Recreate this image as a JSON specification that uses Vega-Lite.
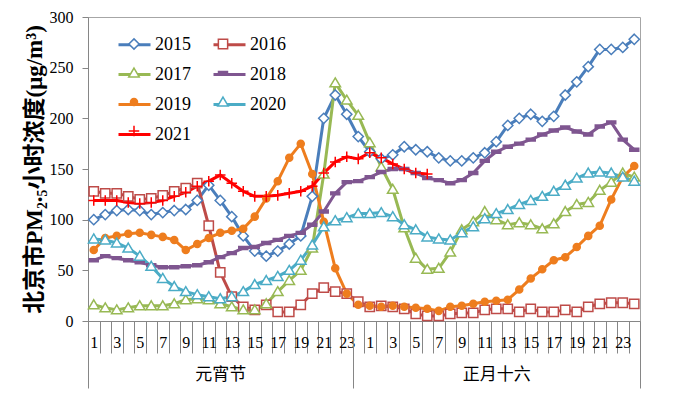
{
"$schema":"https://vega.github.io/schema/vega-lite/v6.json",
"width":552,"height":304,
"autosize":{"type":"none"},
"padding":{"left":88,"top":17,"right":48,"bottom":73},
"background":"white",
"config":{"view":{"stroke":"#A6A6A6","strokeWidth":1},"font":"Liberation Serif"},
"datasets":{"pm":[
{"s":"2015","i":1,"v":100},{"s":"2015","i":2,"v":105},{"s":"2015","i":3,"v":109},{"s":"2015","i":4,"v":110},{"s":"2015","i":5,"v":109},{"s":"2015","i":6,"v":105},{"s":"2015","i":7,"v":107},{"s":"2015","i":8,"v":109},{"s":"2015","i":9,"v":110},{"s":"2015","i":10,"v":119},{"s":"2015","i":11,"v":134},{"s":"2015","i":12,"v":119},{"s":"2015","i":13,"v":103},{"s":"2015","i":14,"v":84},{"s":"2015","i":15,"v":69},{"s":"2015","i":16,"v":64},{"s":"2015","i":17,"v":69},{"s":"2015","i":18,"v":76},{"s":"2015","i":19,"v":84},{"s":"2015","i":20,"v":123},{"s":"2015","i":21,"v":200},{"s":"2015","i":22,"v":223},{"s":"2015","i":23,"v":204},{"s":"2015","i":24,"v":182},{"s":"2015","i":25,"v":167},{"s":"2015","i":26,"v":160},{"s":"2015","i":27,"v":164},{"s":"2015","i":28,"v":172},{"s":"2015","i":29,"v":169},{"s":"2015","i":30,"v":167},{"s":"2015","i":31,"v":161},{"s":"2015","i":32,"v":158},{"s":"2015","i":33,"v":158},{"s":"2015","i":34,"v":161},{"s":"2015","i":35,"v":166},{"s":"2015","i":36,"v":177},{"s":"2015","i":37,"v":193},{"s":"2015","i":38,"v":200},{"s":"2015","i":39,"v":204},{"s":"2015","i":40,"v":197},{"s":"2015","i":41,"v":202},{"s":"2015","i":42,"v":223},{"s":"2015","i":43,"v":236},{"s":"2015","i":44,"v":251},{"s":"2015","i":45,"v":268},{"s":"2015","i":46,"v":268},{"s":"2015","i":47,"v":270},{"s":"2015","i":48,"v":278},
{"s":"2016","i":1,"v":128},{"s":"2016","i":2,"v":126},{"s":"2016","i":3,"v":126},{"s":"2016","i":4,"v":123},{"s":"2016","i":5,"v":120},{"s":"2016","i":6,"v":121},{"s":"2016","i":7,"v":124},{"s":"2016","i":8,"v":128},{"s":"2016","i":9,"v":131},{"s":"2016","i":10,"v":136},{"s":"2016","i":11,"v":94},{"s":"2016","i":12,"v":48},{"s":"2016","i":13,"v":24},{"s":"2016","i":14,"v":14},{"s":"2016","i":15,"v":11},{"s":"2016","i":16,"v":16},{"s":"2016","i":17,"v":9},{"s":"2016","i":18,"v":9},{"s":"2016","i":19,"v":16},{"s":"2016","i":20,"v":27},{"s":"2016","i":21,"v":33},{"s":"2016","i":22,"v":29},{"s":"2016","i":23,"v":27},{"s":"2016","i":24,"v":19},{"s":"2016","i":25,"v":14},{"s":"2016","i":26,"v":15},{"s":"2016","i":27,"v":14},{"s":"2016","i":28,"v":12},{"s":"2016","i":29,"v":7},{"s":"2016","i":30,"v":5},{"s":"2016","i":31,"v":5},{"s":"2016","i":32,"v":7},{"s":"2016","i":33,"v":8},{"s":"2016","i":34,"v":8},{"s":"2016","i":35,"v":11},{"s":"2016","i":36,"v":12},{"s":"2016","i":37,"v":12},{"s":"2016","i":38,"v":9},{"s":"2016","i":39,"v":12},{"s":"2016","i":40,"v":9},{"s":"2016","i":41,"v":9},{"s":"2016","i":42,"v":11},{"s":"2016","i":43,"v":9},{"s":"2016","i":44,"v":14},{"s":"2016","i":45,"v":17},{"s":"2016","i":46,"v":18},{"s":"2016","i":47,"v":18},{"s":"2016","i":48,"v":17},
{"s":"2017","i":1,"v":16},{"s":"2017","i":2,"v":13},{"s":"2017","i":3,"v":11},{"s":"2017","i":4,"v":13},{"s":"2017","i":5,"v":15},{"s":"2017","i":6,"v":15},{"s":"2017","i":7,"v":15},{"s":"2017","i":8,"v":17},{"s":"2017","i":9,"v":21},{"s":"2017","i":10,"v":22},{"s":"2017","i":11,"v":21},{"s":"2017","i":12,"v":17},{"s":"2017","i":13,"v":14},{"s":"2017","i":14,"v":11},{"s":"2017","i":15,"v":11},{"s":"2017","i":16,"v":17},{"s":"2017","i":17,"v":29},{"s":"2017","i":18,"v":40},{"s":"2017","i":19,"v":50},{"s":"2017","i":20,"v":72},{"s":"2017","i":21,"v":145},{"s":"2017","i":22,"v":235},{"s":"2017","i":23,"v":218},{"s":"2017","i":24,"v":203},{"s":"2017","i":25,"v":176},{"s":"2017","i":26,"v":152},{"s":"2017","i":27,"v":130},{"s":"2017","i":28,"v":92},{"s":"2017","i":29,"v":62},{"s":"2017","i":30,"v":51},{"s":"2017","i":31,"v":52},{"s":"2017","i":32,"v":68},{"s":"2017","i":33,"v":90},{"s":"2017","i":34,"v":98},{"s":"2017","i":35,"v":108},{"s":"2017","i":36,"v":100},{"s":"2017","i":37,"v":95},{"s":"2017","i":38,"v":97},{"s":"2017","i":39,"v":95},{"s":"2017","i":40,"v":91},{"s":"2017","i":41,"v":96},{"s":"2017","i":42,"v":108},{"s":"2017","i":43,"v":115},{"s":"2017","i":44,"v":117},{"s":"2017","i":45,"v":129},{"s":"2017","i":46,"v":137},{"s":"2017","i":47,"v":146},{"s":"2017","i":48,"v":142},
{"s":"2018","i":1,"v":60},{"s":"2018","i":2,"v":64},{"s":"2018","i":3,"v":62},{"s":"2018","i":4,"v":60},{"s":"2018","i":5,"v":58},{"s":"2018","i":6,"v":55},{"s":"2018","i":7,"v":53},{"s":"2018","i":8,"v":53},{"s":"2018","i":9,"v":54},{"s":"2018","i":10,"v":55},{"s":"2018","i":11,"v":58},{"s":"2018","i":12,"v":63},{"s":"2018","i":13,"v":67},{"s":"2018","i":14,"v":72},{"s":"2018","i":15,"v":73},{"s":"2018","i":16,"v":77},{"s":"2018","i":17,"v":80},{"s":"2018","i":18,"v":84},{"s":"2018","i":19,"v":87},{"s":"2018","i":20,"v":95},{"s":"2018","i":21,"v":108},{"s":"2018","i":22,"v":126},{"s":"2018","i":23,"v":137},{"s":"2018","i":24,"v":138},{"s":"2018","i":25,"v":142},{"s":"2018","i":26,"v":147},{"s":"2018","i":27,"v":150},{"s":"2018","i":28,"v":150},{"s":"2018","i":29,"v":146},{"s":"2018","i":30,"v":141},{"s":"2018","i":31,"v":139},{"s":"2018","i":32,"v":136},{"s":"2018","i":33,"v":139},{"s":"2018","i":34,"v":146},{"s":"2018","i":35,"v":158},{"s":"2018","i":36,"v":167},{"s":"2018","i":37,"v":172},{"s":"2018","i":38,"v":175},{"s":"2018","i":39,"v":179},{"s":"2018","i":40,"v":184},{"s":"2018","i":41,"v":188},{"s":"2018","i":42,"v":191},{"s":"2018","i":43,"v":187},{"s":"2018","i":44,"v":184},{"s":"2018","i":45,"v":192},{"s":"2018","i":46,"v":196},{"s":"2018","i":47,"v":179},{"s":"2018","i":48,"v":169},
{"s":"2019","i":1,"v":70},{"s":"2019","i":2,"v":82},{"s":"2019","i":3,"v":84},{"s":"2019","i":4,"v":86},{"s":"2019","i":5,"v":87},{"s":"2019","i":6,"v":85},{"s":"2019","i":7,"v":83},{"s":"2019","i":8,"v":80},{"s":"2019","i":9,"v":70},{"s":"2019","i":10,"v":76},{"s":"2019","i":11,"v":82},{"s":"2019","i":12,"v":87},{"s":"2019","i":13,"v":89},{"s":"2019","i":14,"v":91},{"s":"2019","i":15,"v":103},{"s":"2019","i":16,"v":121},{"s":"2019","i":17,"v":138},{"s":"2019","i":18,"v":161},{"s":"2019","i":19,"v":175},{"s":"2019","i":20,"v":145},{"s":"2019","i":21,"v":98},{"s":"2019","i":22,"v":52},{"s":"2019","i":23,"v":27},{"s":"2019","i":24,"v":16},{"s":"2019","i":25,"v":15},{"s":"2019","i":26,"v":14},{"s":"2019","i":27,"v":15},{"s":"2019","i":28,"v":14},{"s":"2019","i":29,"v":13},{"s":"2019","i":30,"v":12},{"s":"2019","i":31,"v":10},{"s":"2019","i":32,"v":14},{"s":"2019","i":33,"v":15},{"s":"2019","i":34,"v":17},{"s":"2019","i":35,"v":19},{"s":"2019","i":36,"v":20},{"s":"2019","i":37,"v":21},{"s":"2019","i":38,"v":31},{"s":"2019","i":39,"v":42},{"s":"2019","i":40,"v":51},{"s":"2019","i":41,"v":60},{"s":"2019","i":42,"v":63},{"s":"2019","i":43,"v":73},{"s":"2019","i":44,"v":84},{"s":"2019","i":45,"v":94},{"s":"2019","i":46,"v":120},{"s":"2019","i":47,"v":142},{"s":"2019","i":48,"v":153},
{"s":"2020","i":1,"v":81},{"s":"2020","i":2,"v":80},{"s":"2020","i":3,"v":77},{"s":"2020","i":4,"v":72},{"s":"2020","i":5,"v":64},{"s":"2020","i":6,"v":54},{"s":"2020","i":7,"v":42},{"s":"2020","i":8,"v":34},{"s":"2020","i":9,"v":29},{"s":"2020","i":10,"v":26},{"s":"2020","i":11,"v":24},{"s":"2020","i":12,"v":22},{"s":"2020","i":13,"v":24},{"s":"2020","i":14,"v":29},{"s":"2020","i":15,"v":36},{"s":"2020","i":16,"v":40},{"s":"2020","i":17,"v":44},{"s":"2020","i":18,"v":50},{"s":"2020","i":19,"v":60},{"s":"2020","i":20,"v":75},{"s":"2020","i":21,"v":93},{"s":"2020","i":22,"v":99},{"s":"2020","i":23,"v":102},{"s":"2020","i":24,"v":106},{"s":"2020","i":25,"v":106},{"s":"2020","i":26,"v":107},{"s":"2020","i":27,"v":103},{"s":"2020","i":28,"v":95},{"s":"2020","i":29,"v":90},{"s":"2020","i":30,"v":83},{"s":"2020","i":31,"v":81},{"s":"2020","i":32,"v":80},{"s":"2020","i":33,"v":87},{"s":"2020","i":34,"v":93},{"s":"2020","i":35,"v":101},{"s":"2020","i":36,"v":106},{"s":"2020","i":37,"v":110},{"s":"2020","i":38,"v":115},{"s":"2020","i":39,"v":119},{"s":"2020","i":40,"v":123},{"s":"2020","i":41,"v":128},{"s":"2020","i":42,"v":134},{"s":"2020","i":43,"v":141},{"s":"2020","i":44,"v":146},{"s":"2020","i":45,"v":147},{"s":"2020","i":46,"v":146},{"s":"2020","i":47,"v":142},{"s":"2020","i":48,"v":138},
{"s":"2021","i":1,"v":119},{"s":"2021","i":2,"v":119},{"s":"2021","i":3,"v":119},{"s":"2021","i":4,"v":117},{"s":"2021","i":5,"v":116},{"s":"2021","i":6,"v":117},{"s":"2021","i":7,"v":119},{"s":"2021","i":8,"v":123},{"s":"2021","i":9,"v":127},{"s":"2021","i":10,"v":133},{"s":"2021","i":11,"v":138},{"s":"2021","i":12,"v":144},{"s":"2021","i":13,"v":136},{"s":"2021","i":14,"v":128},{"s":"2021","i":15,"v":123},{"s":"2021","i":16,"v":123},{"s":"2021","i":17,"v":124},{"s":"2021","i":18,"v":126},{"s":"2021","i":19,"v":128},{"s":"2021","i":20,"v":133},{"s":"2021","i":21,"v":146},{"s":"2021","i":22,"v":157},{"s":"2021","i":23,"v":162},{"s":"2021","i":24,"v":160},{"s":"2021","i":25,"v":166},{"s":"2021","i":26,"v":161},{"s":"2021","i":27,"v":155},{"s":"2021","i":28,"v":150},{"s":"2021","i":29,"v":146},{"s":"2021","i":30,"v":145}
]},
"layer":[
{"data":{"name":"pm"},
 "layer":[
  {"mark":{"type":"line","strokeWidth":3,"strokeJoin":"round"},
   "encoding":{
    "x":{"field":"i","type":"ordinal","scale":{"type":"band","paddingInner":0,"paddingOuter":0},
     "axis":{"title":null,"labelExpr":"datum.value % 2 == 1 ? (datum.value <= 23 ? datum.value : datum.value - 24) : ''","labelAngle":0,"labelOverlap":false,"labelFont":"Liberation Serif","labelFontSize":16,"labelColor":"black","tickBand":"extent","tickSize":32,"tickColor":"#868686","domainColor":"#868686","labelPadding":-19,"grid":false}},
    "y":{"field":"v","type":"quantitative","scale":{"domain":[0,300],"nice":false},
     "axis":{"title":"北京市PM₂.₅小时浓度(μg/m³)","values":[0,50,100,150,200,250,300],"grid":false,"tickSize":6,"labelPadding":9,"labelFont":"Liberation Serif","labelFontSize":16,"labelColor":"black","domainColor":"#868686","tickColor":"#868686","titleFont":"Liberation Serif, Noto Sans CJK SC","titleFontSize":23,"titleFontWeight":"bold","titleColor":"black","titlePadding":3}},
    "stroke":{"field":"s","type":"nominal","scale":{"domain":["2015","2016","2017","2018","2019","2020","2021"],"range":["#4A7EBB","#BE4B48","#98B954","#7F5690","#EE7D1E","#4BACC6","#FF0000"]},
     "legend":{"orient":"none","legendX":29,"legendY":10,"direction":"horizontal","columns":2,"title":null,"symbolType":"M-1,0L1,0","symbolSize":1024,"symbolStrokeWidth":3,"symbolOpacity":1,"labelFont":"Liberation Serif","labelFontSize":18,"labelColor":"black","labelOffset":3,"columnPadding":16,"rowPadding":3,"padding":0}}
   }},
  {"mark":{"type":"point","size":1024,"strokeWidth":1.5,"opacity":1},
   "encoding":{
    "x":{"field":"i","type":"ordinal"},
    "y":{"field":"v","type":"quantitative"},
    "stroke":{"field":"s","type":"nominal","legend":null},
    "fill":{"field":"s","type":"nominal","scale":{"range":["white","white","white","#7F5690","#EE7D1E","white","white"]},"legend":null},
    "shape":{"field":"s","type":"nominal","scale":{"range":["M0,-0.32L0.32,0L0,0.32L-0.32,0Z","M-0.29,-0.29L0.29,-0.29L0.29,0.29L-0.29,0.29Z","M0,-0.31L0.33,0.25L-0.33,0.25Z","M-0.28,-0.09L0.28,-0.09L0.28,0.09L-0.28,0.09Z","M-0.22,0A0.22,0.22,0,1,0,0.22,0A0.22,0.22,0,1,0,-0.22,0Z","M0,-0.31L0.33,0.25L-0.33,0.25Z","M-0.33,0L0.33,0M0,-0.33L0,0.33"]},
     "legend":{"orient":"none","legendX":29,"legendY":10,"direction":"horizontal","columns":2,"title":null,"symbolSize":1024,"symbolStrokeWidth":1.5,"symbolOpacity":1,"labelExpr":"''","labelFont":"Liberation Serif","labelFontSize":18,"labelOffset":0,"columnPadding":55,"rowPadding":3,"padding":0,
      "symbolStrokeColor":{"expr":"datum.value=='2015'?'#4A7EBB':datum.value=='2016'?'#BE4B48':datum.value=='2017'?'#98B954':datum.value=='2018'?'#7F5690':datum.value=='2019'?'#EE7D1E':datum.value=='2020'?'#4BACC6':'#FF0000'"},
      "symbolFillColor":{"expr":"datum.value=='2018'?'#7F5690':datum.value=='2019'?'#EE7D1E':datum.value=='2021'?'transparent':'white'"}}}
   }}
 ]},
{"data":{"values":[{"g":0},{"g":48}]},
 "mark":{"type":"rule","opacity":0},
 "encoding":{"x":{"field":"g","type":"quantitative","scale":{"domain":[0,48],"nice":false,"zero":false},
  "axis":{"orient":"bottom","title":null,"values":[0,11.5,23,35.5,48],"labelExpr":"datum.value == 11.5 ? '元宵节' : datum.value == 35.5 ? '正月十六' : ''","tickSize":67,"tickColor":"#868686","tickOpacity":{"condition":{"test":"datum.value == 11.5 || datum.value == 35.5","value":0},"value":1},"domain":false,"grid":false,"labelPadding":-22,"labelFont":"Noto Sans CJK SC","labelFontSize":17,"labelColor":"black","labelOverlap":false,"labelFlush":false,"labelAngle":0}}}}
],
"resolve":{"scale":{"x":"independent"}}
}
